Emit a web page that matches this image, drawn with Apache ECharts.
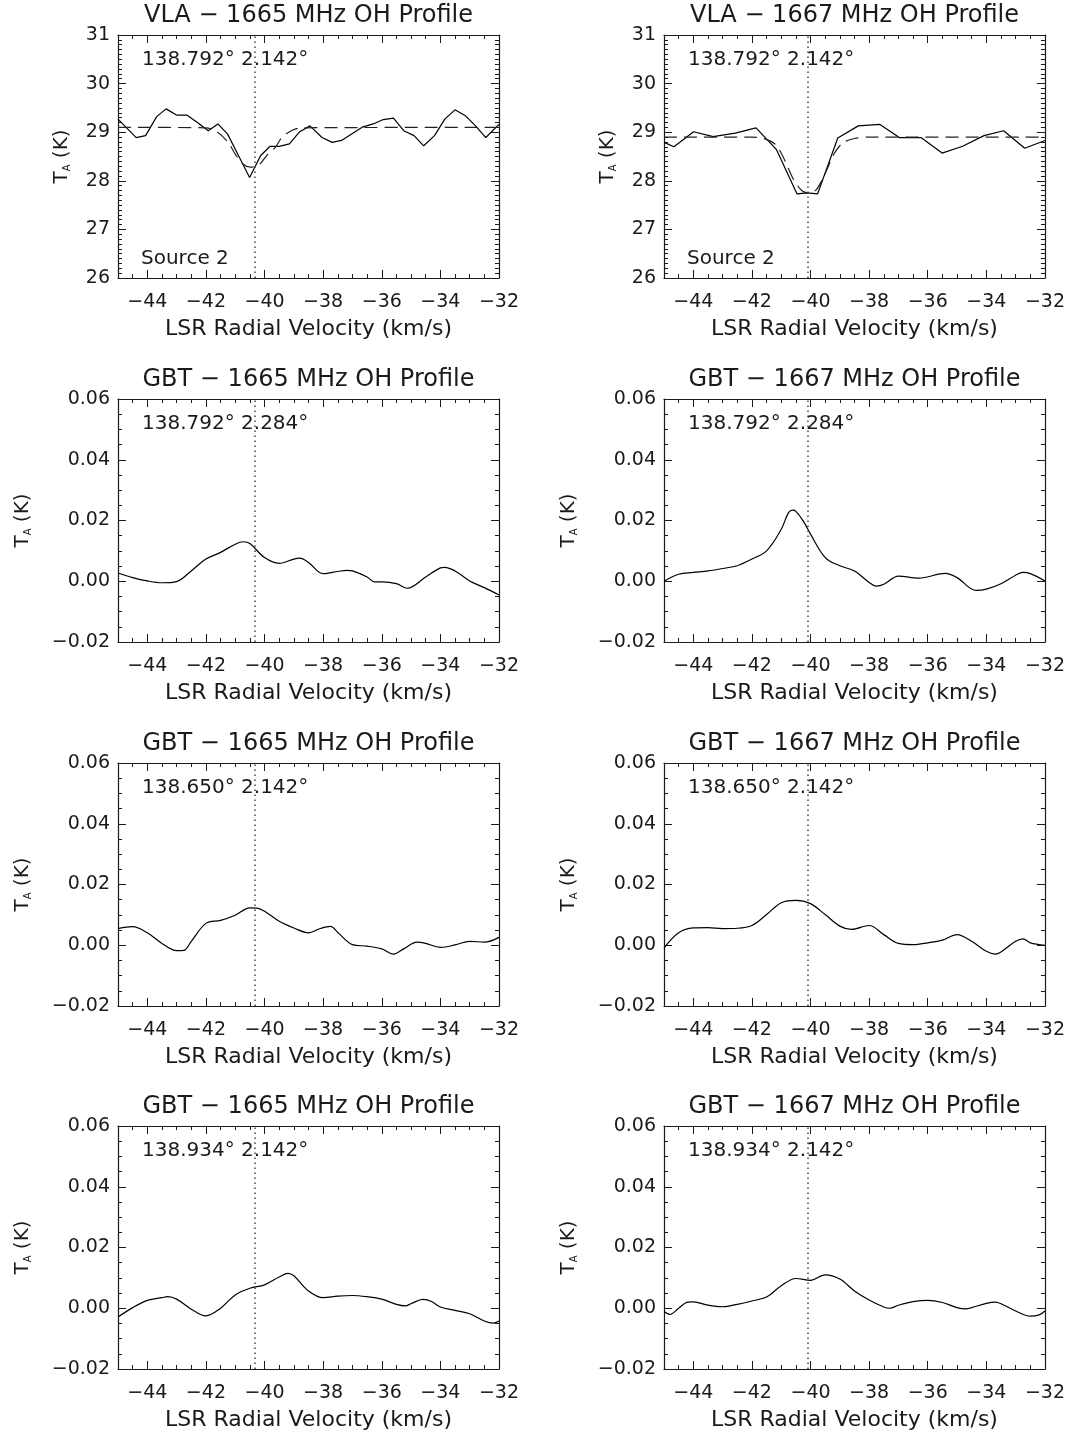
<!DOCTYPE html>
<html>
<head>
<meta charset="utf-8">
<script src="https://cdn.jsdelivr.net/npm/echarts@6/dist/echarts.min.js"></script>
<style>
  html, body { margin: 0; padding: 0; background: #fff; }
  #main { width: 1068px; height: 1434px; }
</style>
</head>
<body>
<div id="main"></div>
<script>
// LSR velocity axis (km/s)
const velMin = -45, velMax = -32;
const velTicks = [-44, -42, -40, -38, -36, -34, -32];

// dotted line: velocity of the source
const vline1665 = -40.35;
const vline1667 = -40.1;

// VLA 1665 MHz spectrum + gaussian fit (K)
const vla1665Vel = [-45, -44.38, -44.06, -43.68, -43.36, -42.99, -42.64, -42.29, -41.92, -41.59, -41.26, -40.89, -40.51, -40.13, -39.81, -39.5, -39.15, -38.8, -38.45, -38.04, -37.69, -37.37, -36.99, -36.64, -36.29, -35.95, -35.6, -35.25, -34.9, -34.57, -34.2, -33.85, -33.5, -33.15, -32.8, -32.45, -32];
const vla1665Ta = [29.27, 28.89, 28.93, 29.32, 29.48, 29.35, 29.35, 29.2, 29.03, 29.17, 28.96, 28.52, 28.07, 28.52, 28.71, 28.71, 28.76, 29.01, 29.13, 28.89, 28.79, 28.83, 28.98, 29.11, 29.17, 29.26, 29.29, 29.03, 28.93, 28.72, 28.93, 29.27, 29.46, 29.34, 29.13, 28.89, 29.16];
const vla1665FitVel = [-45, -42, -41.6, -41.24, -41, -40.75, -40.48, -40.2, -39.9, -39.63, -39.42, -39.09, -38.74, -32];
const vla1665FitTa = [29.1, 29.09, 29.0, 28.79, 28.55, 28.35, 28.28, 28.32, 28.54, 28.69, 28.88, 29.03, 29.09, 29.1];

// VLA 1667 MHz spectrum + gaussian fit (K)
const vla1667Vel = [-45, -44.66, -43.99, -43.32, -42.57, -41.86, -41.16, -40.46, -40.11, -39.76, -39.07, -38.37, -37.63, -36.97, -36.23, -35.51, -34.81, -34.08, -33.41, -32.69, -32];
const vla1667Ta = [28.79, 28.7, 29.01, 28.91, 28.98, 29.09, 28.64, 27.73, 27.75, 27.73, 28.88, 29.13, 29.16, 28.89, 28.89, 28.57, 28.71, 28.93, 29.03, 28.67, 28.83];
const vla1667FitVel = [-45, -42, -41.6, -41.2, -40.9, -40.6, -40.3, -40.05, -39.8, -39.5, -39.2, -38.9, -38.5, -38, -32];
const vla1667FitTa = [28.9, 28.9, 28.87, 28.75, 28.45, 28.05, 27.8, 27.75, 27.82, 28.15, 28.55, 28.78, 28.87, 28.9, 28.9];

// GBT spectra (K)
const gbt1665aVel = [-45, -44.5, -44, -43.5, -43, -42.5, -42, -41.5, -41, -40.72, -40.5, -40, -39.5, -39, -38.8, -38.5, -38, -37.5, -37.2, -37, -36.5, -36.25, -36, -35.5, -35.13, -34.5, -34, -33.85, -33.5, -33, -32.5, -32];
const gbt1665aTa = [0.0027, 0.0012, 0.0001, -0.0005, -0.0001, 0.0034, 0.0073, 0.0095, 0.0122, 0.013, 0.0124, 0.0078, 0.0059, 0.0073, 0.0076, 0.0062, 0.0025, 0.0032, 0.0036, 0.0034, 0.0014, -0.0002, -0.0002, -0.0008, -0.0023, 0.0014, 0.0044, 0.0046, 0.0034, 0.0001, -0.0021, -0.0045];

const gbt1667aVel = [-45, -44.5, -44, -43.5, -43, -42.5, -42, -41.5, -41, -40.75, -40.6, -40.5, -40.25, -40, -39.5, -39, -38.5, -38, -37.75, -37.5, -37, -36.3, -35.4, -35, -34.35, -34, -33.5, -33, -32.75, -32.5, -32];
const gbt1667aTa = [0.0, 0.0023, 0.0029, 0.0034, 0.0042, 0.0051, 0.0073, 0.01, 0.0171, 0.0226, 0.0234, 0.023, 0.0199, 0.0155, 0.0078, 0.0051, 0.0034, -0.0004, -0.0016, -0.001, 0.0017, 0.001, 0.0026, 0.0012, -0.003, -0.0026, -0.0008, 0.002, 0.0029, 0.0025, 0.0001];

const gbt1665bVel = [-45, -44.5, -44, -43.5, -43, -42.75, -42.5, -42, -41.5, -41, -40.5, -40.25, -40, -39.5, -39, -38.5, -38.1, -37.75, -37.5, -37, -36.5, -36, -35.6, -35.25, -34.8, -34.5, -34, -33.5, -33, -32.5, -32];
const gbt1665bTa = [0.0055, 0.0061, 0.0041, 0.0006, -0.0018, -0.0017, 0.0013, 0.0072, 0.0082, 0.0099, 0.0123, 0.0122, 0.0112, 0.0079, 0.0057, 0.0041, 0.0055, 0.0062, 0.0042, 0.0002, -0.0003, -0.0012, -0.0029, -0.0012, 0.001, 0.0006, -0.0007, 0.0001, 0.0013, 0.001, 0.0026];

const gbt1667bVel = [-45, -44.5, -44, -43.5, -43, -42.5, -42, -41.5, -41, -40.5, -40, -39.5, -39, -38.6, -38, -37.5, -37, -36.5, -36, -35.5, -35, -34.5, -34, -33.7, -33.5, -33, -32.75, -32.5, -32];
const gbt1667bTa = [-0.0009, 0.0041, 0.0057, 0.0058, 0.0055, 0.0056, 0.0065, 0.0101, 0.014, 0.0148, 0.0137, 0.0101, 0.0063, 0.0052, 0.0065, 0.0035, 0.0006, 0.0002, 0.0008, 0.0017, 0.0035, 0.0013, -0.002, -0.0029, -0.0022, 0.0013, 0.0021, 0.0008, 0.0];

const gbt1665cVel = [-45, -44.5, -44, -43.5, -43.3, -43, -42.5, -42, -41.5, -41, -40.5, -40, -39.5, -39.2, -39, -38.5, -38, -37.5, -37, -36.5, -36, -35.5, -35.2, -35, -34.6, -34.3, -34, -33.5, -33, -32.5, -32.2, -32];
const gbt1665cTa = [-0.0029, 0.0002, 0.0026, 0.0035, 0.0038, 0.003, -0.0003, -0.0025, 0.0, 0.0044, 0.0066, 0.0077, 0.0103, 0.0115, 0.0107, 0.0057, 0.0035, 0.004, 0.0042, 0.0038, 0.003, 0.0013, 0.0008, 0.0015, 0.0029, 0.0022, 0.0004, -0.0007, -0.0018, -0.0042, -0.0049, -0.0042];

const gbt1667cVel = [-45, -44.8, -44.5, -44.2, -44, -43.5, -43, -42.5, -42, -41.5, -41, -40.5, -40, -39.5, -39, -38.5, -38, -37.5, -37.3, -37, -36.5, -36, -35.5, -35, -34.7, -34.5, -34, -33.7, -33.5, -33, -32.5, -32.2, -32];
const gbt1667cTa = [-0.0011, -0.002, 0.0, 0.002, 0.0021, 0.001, 0.0005, 0.0013, 0.0024, 0.0037, 0.0074, 0.0098, 0.0092, 0.011, 0.0096, 0.0057, 0.0027, 0.0004, 0.0, 0.001, 0.0022, 0.0026, 0.0019, 0.0002, -0.0002, 0.0002, 0.0016, 0.002, 0.0015, -0.0009, -0.0026, -0.0022, -0.0009];

const panels = [
  { title: 'VLA \u2212 1665 MHz OH Profile', pos: '138.792° 2.142°', vel: vla1665Vel, ta: vla1665Ta, fitVel: vla1665FitVel, fitTa: vla1665FitTa, vline: vline1665, vla: true },
  { title: 'VLA \u2212 1667 MHz OH Profile', pos: '138.792° 2.142°', vel: vla1667Vel, ta: vla1667Ta, fitVel: vla1667FitVel, fitTa: vla1667FitTa, vline: vline1667, vla: true },
  { title: 'GBT \u2212 1665 MHz OH Profile', pos: '138.792° 2.284°', vel: gbt1665aVel, ta: gbt1665aTa, vline: vline1665 },
  { title: 'GBT \u2212 1667 MHz OH Profile', pos: '138.792° 2.284°', vel: gbt1667aVel, ta: gbt1667aTa, vline: vline1667 },
  { title: 'GBT \u2212 1665 MHz OH Profile', pos: '138.650° 2.142°', vel: gbt1665bVel, ta: gbt1665bTa, vline: vline1665 },
  { title: 'GBT \u2212 1667 MHz OH Profile', pos: '138.650° 2.142°', vel: gbt1667bVel, ta: gbt1667bTa, vline: vline1667 },
  { title: 'GBT \u2212 1665 MHz OH Profile', pos: '138.934° 2.142°', vel: gbt1665cVel, ta: gbt1665cTa, vline: vline1665 },
  { title: 'GBT \u2212 1667 MHz OH Profile', pos: '138.934° 2.142°', vel: gbt1667cVel, ta: gbt1667cTa, vline: vline1667 }
];

const FONT = 'DejaVu Sans';
const INK = '#1a1a1a';
const gridLeft = [118, 664];
const gridTop = [35, 399, 763, 1126];
const gridW = 381, gridH = 243;

function minus(s) { return s.replace('-', '\u2212'); }
function zip(a, b) { return a.map((v, k) => [v, b[k]]); }

const grids = [], xAxes = [], yAxes = [], series = [], graphics = [];
const axLine = { show: true, onZero: false, lineStyle: { color: INK, width: 1.2 } };
const noLine = { show: false, onZero: false };
const tickStyle = { color: INK, width: 1 };

panels.forEach((p, i) => {
  const col = i % 2, row = Math.floor(i / 2);
  const left = gridLeft[col], top = gridTop[row];
  grids.push({ left: left, top: top, width: gridW, height: gridH });

  const xBase = {
    gridIndex: i, type: 'value', min: velMin, max: velMax,
    splitLine: { show: false }, axisLine: noLine,
    axisLabel: { show: false }, axisTick: { show: false }
  };
  // bottom: labelled major ticks
  xAxes.push(Object.assign({}, xBase, {
    position: 'bottom',
    axisTick: { show: true, inside: true, length: 8, customValues: velTicks, lineStyle: tickStyle },
    axisLabel: { show: true, customValues: velTicks, margin: 15, fontSize: 19, fontFamily: FONT, color: INK,
      formatter: v => minus(String(v)) },
    name: 'LSR Radial Velocity (km/s)', nameLocation: 'middle', nameGap: 40,
    nameTextStyle: { fontSize: 22, fontFamily: FONT, color: INK }
  }));
  // bottom: minor ticks + frame
  xAxes.push(Object.assign({}, xBase, {
    position: 'bottom', interval: 0.5, axisLine: axLine,
    axisTick: { show: true, inside: true, length: 4, lineStyle: tickStyle }
  }));
  // top mirror
  xAxes.push(Object.assign({}, xBase, {
    position: 'top',
    axisTick: { show: true, inside: true, length: 8, customValues: velTicks, lineStyle: tickStyle }
  }));
  xAxes.push(Object.assign({}, xBase, {
    position: 'top', interval: 0.5, axisLine: axLine,
    axisTick: { show: true, inside: true, length: 4, lineStyle: tickStyle }
  }));

  const yr = p.vla
    ? { min: 26, max: 31, interval: 1, split: 10, fmt: v => String(v) }
    : { min: -0.02, max: 0.06, interval: 0.02, split: 4,
        fmt: v => Math.abs(v) < 1e-9 ? '0.00' : minus(v.toFixed(2)) };
  const yBase = {
    gridIndex: i, type: 'value', min: yr.min, max: yr.max, interval: yr.interval,
    splitLine: { show: false }, axisLine: axLine,
    axisTick: { show: true, inside: true, length: 8, lineStyle: tickStyle },
    minorTick: { show: true, splitNumber: yr.split, length: 4, lineStyle: tickStyle }
  };
  yAxes.push(Object.assign({}, yBase, {
    position: 'left',
    axisLabel: { show: true, margin: 8, fontSize: 19, fontFamily: FONT, color: INK, formatter: yr.fmt },
    name: '{t|T}{s|A} (K)', nameLocation: 'middle', nameRotate: 90, nameGap: p.vla ? 46 : 85,
    nameTextStyle: {
      fontSize: 20, fontFamily: FONT, color: INK,
      rich: {
        t: { fontSize: 20, fontFamily: FONT, color: INK },
        s: { fontSize: 10, fontFamily: FONT, color: INK, verticalAlign: 'bottom' }
      }
    }
  }));
  yAxes.push(Object.assign({}, yBase, { position: 'right', axisLabel: { show: false } }));

  series.push({
    type: 'line', xAxisIndex: 4 * i, yAxisIndex: 2 * i,
    data: zip(p.vel, p.ta), showSymbol: false, symbol: 'none',
    smooth: p.vla ? false : 0.35,
    lineStyle: { color: '#000', width: 1.2 },
    emphasis: { disabled: true },
    markLine: {
      silent: true, symbol: ['none', 'none'], label: { show: false },
      lineStyle: { type: [1.5, 3.5], color: '#444', width: 1.5 },
      data: [{ xAxis: p.vline }]
    }
  });
  if (p.vla) {
    series.push({
      type: 'line', xAxisIndex: 4 * i, yAxisIndex: 2 * i,
      data: zip(p.fitVel, p.fitTa), showSymbol: false, symbol: 'none', smooth: 0.3,
      lineStyle: { color: '#222', width: 1.2, type: [13, 7] },
      emphasis: { disabled: true }
    });
  }

  graphics.push({
    type: 'text', x: left + gridW / 2, y: top - 19,
    style: { text: p.title, font: '24px "' + FONT + '"', fill: INK,
      align: 'center', verticalAlign: 'middle', textAlign: 'center', textVerticalAlign: 'middle' }
  });
  graphics.push({
    type: 'text', x: left + 24, y: top + 25,
    style: { text: p.pos, font: '20px "' + FONT + '"', fill: INK,
      align: 'left', verticalAlign: 'middle', textAlign: 'left', textVerticalAlign: 'middle' }
  });
  if (p.vla) {
    graphics.push({
      type: 'text', x: left + 23, y: top + gridH - 19,
      style: { text: 'Source 2', font: '20px "' + FONT + '"', fill: INK,
        align: 'left', verticalAlign: 'middle', textAlign: 'left', textVerticalAlign: 'middle' }
    });
  }
});

const chart = echarts.init(document.getElementById('main'), null, { renderer: 'canvas' });
chart.setOption({
  backgroundColor: '#fff',
  animation: false,
  grid: grids,
  xAxis: xAxes,
  yAxis: yAxes,
  series: series,
  graphic: { elements: graphics }
});
</script>
</body>
</html>
